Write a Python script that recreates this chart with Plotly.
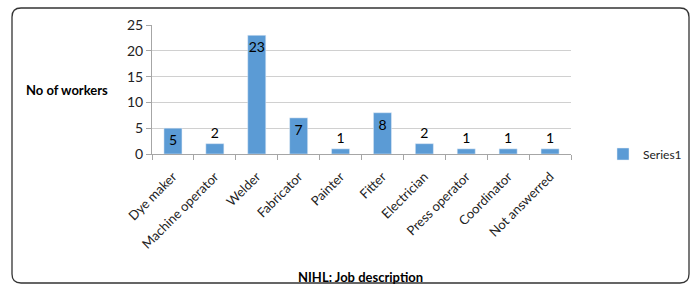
import plotly.graph_objects as go

categories = ["Dye maker", "Machine operator", "Welder", "Fabricator", "Painter",
              "Fitter", "Electrician", "Press operator", "Coordinator", "Not answerred"]
values = [5, 2, 23, 7, 1, 8, 2, 1, 1, 1]
y_ticks = [0, 5, 10, 15, 20, 25]

FONT = "Lato, 'Open Sans', Arial, sans-serif"
L, R, T, B = 152, 571, 25, 154
W, H = 697, 291
pw, ph = R - L, B - T

def px_x(x):
    return (x - L) / pw

def px_y(y):
    return (B - y) / ph

positions = ["inside" if v >= 5 else "outside" for v in values]

fig = go.Figure()
fig.add_trace(go.Bar(
    x=categories, y=values, name="Series1",
    marker=dict(color="#5B9BD5"),
    text=[str(v) for v in values], textposition=positions,
    insidetextanchor="end",
    textfont=dict(family=FONT, size=14, color="#000000"),
    cliponaxis=False,
))

# rounded frame
x0, x1, y0, y1 = 12, 689, 8, 283
r = 9
def P(x, y):
    return f"{px_x(x)},{px_y(y)}"
path = (f"M {P(x0+r, y0)} L {P(x1-r, y0)} Q {P(x1, y0)} {P(x1, y0+r)} "
        f"L {P(x1, y1-r)} Q {P(x1, y1)} {P(x1-r, y1)} "
        f"L {P(x0+r, y1)} Q {P(x0, y1)} {P(x0, y1-r)} "
        f"L {P(x0, y0+r)} Q {P(x0, y0)} {P(x0+r, y0)} Z")

fig.update_layout(
    width=W, height=H,
    margin=dict(l=L, r=W - R, t=T, b=H - B, autoexpand=False),
    paper_bgcolor="white", plot_bgcolor="white",
    bargap=0.57,
    uniformtext=dict(minsize=14, mode="show"),
    showlegend=True,
    legend=dict(x=px_x(603), y=px_y(154), xanchor="left", yanchor="middle",
                font=dict(family=FONT, size=12, color="#222222"),
                bgcolor="rgba(0,0,0,0)", itemwidth=30, tracegroupgap=0),
    xaxis=dict(
        automargin=False,
        tickangle=-45, tickfont=dict(family=FONT, size=13, color="#222222"),
        ticklabelstandoff=9,
        showline=True, linecolor="#A6A6A6", linewidth=1,
        ticks="outside", tickson="boundaries", ticklen=5, tickcolor="#A6A6A6",
        showgrid=False,
    ),
    yaxis=dict(
        automargin=False,
        range=[0, 25], tickvals=y_ticks,
        tickfont=dict(family=FONT, size=14, color="#222222"),
        showgrid=True, gridcolor="#D0D0D0", gridwidth=1,
        showline=True, linecolor="#A6A6A6", linewidth=1,
        ticks="outside", ticklen=5, tickcolor="#A6A6A6",
        zeroline=False,
    ),
    shapes=[dict(type="path", path=path, xref="paper", yref="paper",
                 line=dict(color="#333333", width=1.3), layer="below")],
    annotations=[
        dict(text="<b>No of workers</b>", x=px_x(67), y=px_y(90), xref="paper", yref="paper",
             xanchor="center", yanchor="middle",
             showarrow=False, font=dict(family=FONT, size=13, color="#000000")),
        dict(text="<b>NIHL: Job description</b>", x=px_x(360), y=px_y(277), xref="paper", yref="paper",
             xanchor="center", yanchor="middle",
             showarrow=False, font=dict(family=FONT, size=13, color="#000000")),
    ],
)

fig.write_html("out.html", config={"displayModeBar": False},
               post_script="document.body.style.margin='0px';")
